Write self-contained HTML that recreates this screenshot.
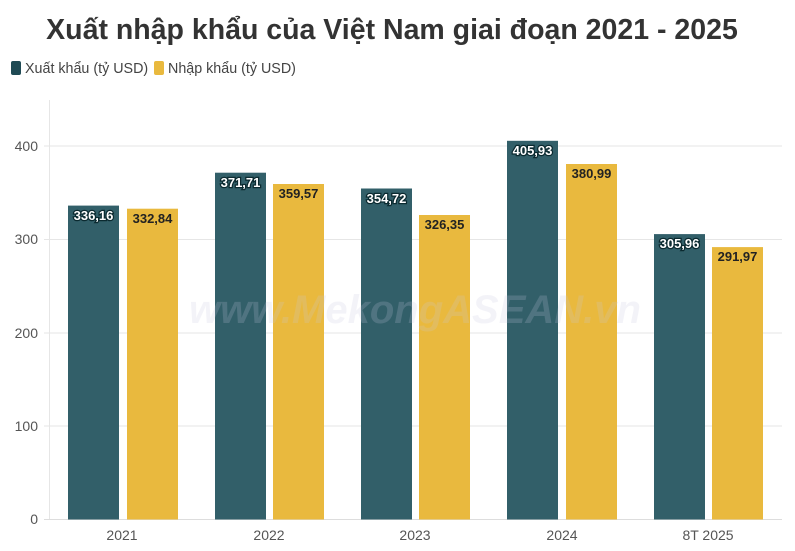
<!DOCTYPE html>
<html><head><meta charset="utf-8"><style>
body{margin:0;background:#fff;width:795px;height:551px;overflow:hidden}
svg{display:block;font-family:"Liberation Sans","DejaVu Sans",sans-serif}
</style></head><body>
<svg width="795" height="551" viewBox="0 0 795 551">
<text x="392" y="39" text-anchor="middle" font-size="28.5" font-weight="bold" fill="#333">Xuất nhập khẩu của Việt Nam giai đoạn 2021 - 2025</text>
<rect x="11" y="61" width="10" height="14" rx="2" fill="#1f4a54"/>
<text x="25" y="73" font-size="14.3" fill="#444">Xuất khẩu (tỷ USD)</text>
<rect x="154" y="61" width="10" height="14" rx="2" fill="#e9b93e"/>
<text x="168" y="73" font-size="14.3" fill="#444">Nhập khẩu (tỷ USD)</text>
<g stroke="#e6e6e6" stroke-width="1">
<line x1="44" y1="426" x2="782" y2="426"/>
<line x1="44" y1="333" x2="782" y2="333"/>
<line x1="44" y1="239.5" x2="782" y2="239.5"/>
<line x1="44" y1="146" x2="782" y2="146"/>
<line x1="49.5" y1="100" x2="49.5" y2="520"/>
<line x1="44" y1="519.5" x2="782" y2="519.5" stroke="#ddd"/>
</g>
<g font-size="14" fill="#555" text-anchor="end">
<text x="38" y="524">0</text><text x="38" y="431">100</text><text x="38" y="338">200</text><text x="38" y="244">300</text><text x="38" y="151">400</text>
</g>
<g fill="#325f69">
<rect x="68" y="205.6" width="51" height="313.9"/>
<rect x="215" y="172.7" width="51" height="346.8"/>
<rect x="361" y="188.5" width="51" height="331"/>
<rect x="507" y="140.8" width="51" height="378.7"/>
<rect x="654" y="234.1" width="51" height="285.4"/>
</g>
<g fill="#e9b93e">
<rect x="127" y="208.7" width="51" height="310.8"/>
<rect x="273" y="184" width="51" height="335.5"/>
<rect x="419" y="215" width="51" height="304.5"/>
<rect x="566" y="164" width="51" height="355.5"/>
<rect x="712" y="247.1" width="51" height="272.4"/>
</g>
<text x="415" y="323" text-anchor="middle" font-size="40" font-weight="bold" font-style="italic" fill="#c8c8e0" opacity="0.2">www.MekongASEAN.vn</text>
<g font-size="13" font-weight="bold" text-anchor="middle" fill="#fff" stroke="#0b2a30" stroke-width="2.5" paint-order="stroke">
<text x="93.5" y="220">336,16</text>
<text x="240.5" y="187">371,71</text>
<text x="386.5" y="203">354,72</text>
<text x="532.5" y="155">405,93</text>
<text x="679.5" y="248">305,96</text>
</g>
<g font-size="13" font-weight="bold" text-anchor="middle" fill="#222">
<text x="152.5" y="223">332,84</text>
<text x="298.5" y="198">359,57</text>
<text x="444.5" y="229">326,35</text>
<text x="591.5" y="178">380,99</text>
<text x="737.5" y="261">291,97</text>
</g>
<g font-size="14" fill="#555" text-anchor="middle">
<text x="122" y="540">2021</text><text x="269" y="540">2022</text><text x="415" y="540">2023</text><text x="562" y="540">2024</text><text x="708" y="540">8T 2025</text>
</g>
</svg>
</body></html>
